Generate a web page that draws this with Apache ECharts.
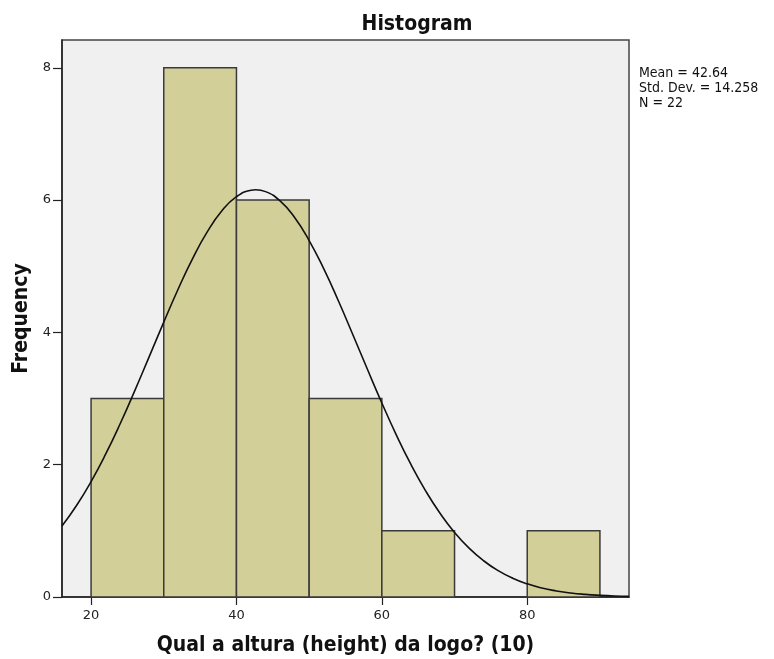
<!DOCTYPE html>
<html>
<head>
<meta charset="utf-8">
<script src="https://cdn.jsdelivr.net/npm/echarts@6/dist/echarts.min.js"></script>
<style>
  html, body { margin: 0; padding: 0; background: #fff; }
  #chart { width: 774px; height: 659px; }
</style>
</head>
<body>
<div id="chart"></div>
<script>
// Histogram bins: lower edge, upper edge, count
const binStarts = [20, 30, 40, 50, 60, 70, 80];
const binEnds   = [30, 40, 50, 60, 70, 80, 90];
const counts    = [3, 8, 6, 3, 1, 0, 1];

// Fitted normal curve (x, expected frequency)
const curveX = [16, 18, 20, 22, 24, 26, 28, 30, 32, 34, 36, 38, 40, 42, 42.64, 44, 46, 48, 50, 52, 54, 56, 58, 60, 62, 64, 66, 68, 70, 72, 74, 76, 78, 80, 82, 84, 86, 88, 90, 92, 94];
const curveY = [1.074, 1.383, 1.745, 2.159, 2.619, 3.116, 3.634, 4.155, 4.660, 5.124, 5.523, 5.838, 6.051, 6.150, 6.156, 6.128, 5.987, 5.736, 5.388, 4.963, 4.482, 3.969, 3.446, 2.933, 2.448, 2.004, 1.609, 1.266, 0.976, 0.739, 0.548, 0.398, 0.284, 0.199, 0.136, 0.092, 0.060, 0.039, 0.025, 0.015, 0.009];

const xTicks = [20, 40, 60, 80];
const yTicks = [0, 2, 4, 6, 8];

const statsLines = ['Mean = 42.64', 'Std. Dev. = 14.258', 'N = 22'];

const FONT = '"DejaVu Sans Condensed", "Liberation Sans Narrow", "DejaVu Sans", sans-serif';
const TICK_FONT = '"DejaVu Sans", sans-serif';

const chart = echarts.init(document.getElementById('chart'), null, { renderer: 'canvas' });

const histData = binStarts.map((s, i) => [s, binEnds[i], counts[i]]);
const lineData = curveX.map((x, i) => [x, curveY[i]]);

chart.setOption({
  animation: false,
  backgroundColor: '#ffffff',
  title: {
    text: 'Histogram',
    left: 412,
    top: 9,
    textAlign: 'center',
    textStyle: { fontFamily: FONT, fontSize: 21, fontWeight: 'bold', color: '#111' }
  },
  grid: {
    left: 62, top: 40, right: 145, bottom: 62,
    outerBoundsMode: 'none',
    containLabel: false,
    show: true,
    backgroundColor: '#f0f0f0',
    borderColor: '#444',
    borderWidth: 1.5
  },
  xAxis: {
    type: 'value',
    min: 16, max: 94,
    name: 'Qual a altura (height) da logo? (10)',
    nameLocation: 'middle',
    nameGap: 38,
    nameTextStyle: { fontFamily: FONT, fontSize: 21, fontWeight: 'bold', color: '#111' },
    axisLine: { show: true, onZero: false, lineStyle: { color: '#222', width: 1.5 } },
    axisTick: { show: true, inside: false, length: 8, customValues: xTicks, lineStyle: { color: '#222', width: 1.2 } },
    axisLabel: { customValues: xTicks, margin: 12, fontFamily: TICK_FONT, fontSize: 13, color: '#222' },
    splitLine: { show: false }
  },
  yAxis: {
    type: 'value',
    min: 0, max: 8.42,
    name: 'Frequency',
    nameLocation: 'middle',
    nameGap: 30,
    nameRotate: 90,
    nameTextStyle: { fontFamily: FONT, fontSize: 21, fontWeight: 'bold', color: '#111' },
    axisLine: { show: true, lineStyle: { color: '#222', width: 1.5 } },
    axisTick: { show: true, inside: false, length: 9, customValues: yTicks, lineStyle: { color: '#222', width: 1.2 } },
    axisLabel: { customValues: yTicks, margin: 11, fontFamily: TICK_FONT, fontSize: 13, color: '#222' },
    splitLine: { show: false }
  },
  graphic: [{
    type: 'text',
    left: 639,
    top: 66,
    style: {
      text: statsLines.join('\n'),
      fontFamily: FONT,
      fontSize: 14,
      lineHeight: 15,
      fill: '#111'
    }
  }],
  series: [
    {
      type: 'custom',
      data: histData,
      encode: { x: [0, 1], y: 2 },
      renderItem: function (params, api) {
        const h = api.value(2);
        if (!h) return null;
        const p0 = api.coord([api.value(0), 0]);
        const p1 = api.coord([api.value(1), h]);
        return {
          type: 'rect',
          shape: { x: p0[0], y: p1[1], width: p1[0] - p0[0], height: p0[1] - p1[1] },
          style: { fill: '#d3cf98', stroke: '#3a3a3a', lineWidth: 1.5 }
        };
      },
      z: 2
    },
    {
      type: 'line',
      data: lineData,
      smooth: true,
      showSymbol: false,
      lineStyle: { color: '#111', width: 1.6 },
      z: 3
    }
  ]
});
</script>
</body>
</html>
